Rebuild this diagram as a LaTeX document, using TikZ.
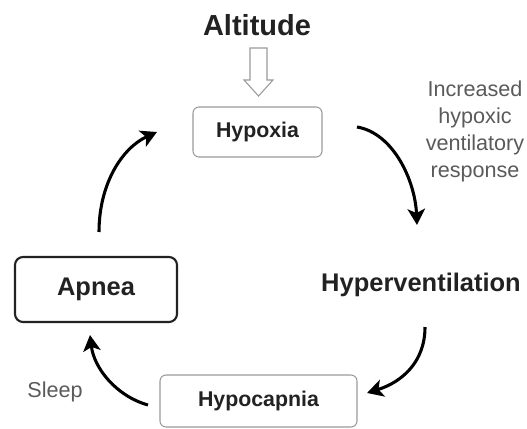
\documentclass[tikz,border=0pt]{standalone}
\usepackage{fontspec}
\setmainfont{Liberation Sans}
\usetikzlibrary{arrows.meta,calc}
\definecolor{boxgray}{HTML}{9A9A9A}
\definecolor{textdark}{HTML}{222222}
\definecolor{textgray}{HTML}{5A5A5A}
\begin{document}
\begin{tikzpicture}[x=0.75pt,y=-0.75pt,
  graybox/.style={draw=boxgray,line width=0.8pt,rounded corners=4.5pt,inner sep=0pt,text=textdark,font=\fontsize{16}{19}\selectfont\bfseries},
  darkbox/.style={draw=textdark,line width=1.6pt,rounded corners=6pt,inner sep=0pt,text=textdark,font=\fontsize{19.1}{22}\selectfont\bfseries},
  cyc/.style={line width=2.3pt,-{Stealth[length=12pt,width=13pt,inset=3pt]}},
  note/.style={text=textgray,font=\fontsize{16.2}{20.25}\selectfont,align=center,inner sep=0pt}]
\useasboundingbox (0,0) rectangle (527,428);
% nodes
\node[font=\fontsize{21.75}{24}\selectfont\bfseries,text=textdark,inner sep=0pt] (alt) at (257,25) {Altitude};
\node[graybox,minimum width=96.75pt,minimum height=37.5pt] (hypoxia) at (257.5,132) {Hypoxia};
\node[font=\fontsize{19.1}{22}\selectfont\bfseries,text=textdark,inner sep=0pt] (hyperv) at (421,285) {Hyperventilation};
\node[graybox,minimum width=147.75pt,minimum height=39pt] (hypocap) at (258.5,401) {Hypocapnia};
\node[darkbox,minimum width=121.5pt,minimum height=48.75pt] (apnea) at (96,289.5) {Apnea};
\node[note] (hvr) at (475,131) {Increased\\hypoxic\\ventilatory\\response};
\node[note] (sleep) at (55,392) {Sleep};
% hollow arrow from Altitude to Hypoxia
\coordinate (ha) at (258.5,48);
\draw[draw=boxgray,line width=0.8pt,fill=white]
  ($(ha)+(-8.5,0)$) -- ($(ha)+(8.5,0)$) -- ($(ha)+(8.5,32)$) -- ($(ha)+(14.5,32)$)
  -- ($(ha)+(0,48)$) -- ($(ha)+(-14.5,32)$) -- ($(ha)+(-8.5,32)$) -- cycle;
% cycle arrow ends
\coordinate (a1s) at (357,127);
\coordinate (a1e) at (417,225);
\coordinate (a2s) at (425,327);
\coordinate (a2e) at (367,393);
\coordinate (a3s) at (148,405);
\coordinate (a3e) at (90,335);
\coordinate (a4s) at (99,232);
\coordinate (a4e) at (157,132);
\draw[cyc] (a1s) .. controls (393,133) and (415,180) .. (a1e);
\draw[cyc] (a2s) .. controls (425,362) and (402,382) .. (a2e);
\draw[cyc] (a3s) .. controls (116,396) and (94,368) .. (a3e);
\draw[cyc] (a4s) .. controls (99,184) and (122,148) .. (a4e);
\end{tikzpicture}
\end{document}
